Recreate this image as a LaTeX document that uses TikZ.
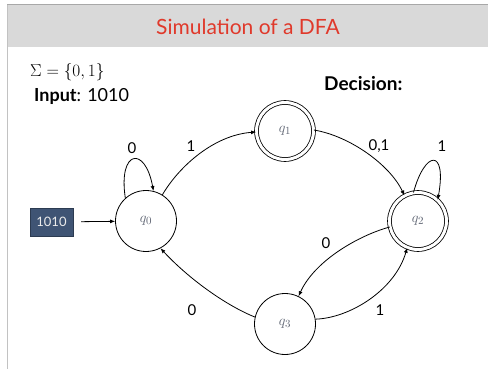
\documentclass[tikz,border=0pt]{standalone}
\usepackage{fontspec}
\setmainfont{Lato}
\usetikzlibrary{arrows.meta}
\definecolor{titlered}{HTML}{E0392B}
\definecolor{barfill}{HTML}{D9D9D9}
\definecolor{barline}{HTML}{A8A8A8}
\definecolor{boxfill}{HTML}{3F5474}
\definecolor{qtext}{HTML}{5E6472}
\tikzset{
  stateq/.style={circle, draw, line width=0.8pt, minimum size=61pt, inner sep=0pt, font=\fontsize{15}{15}\selectfont, text=qtext},
  acceptq/.style={stateq, double, double distance=3pt, minimum size=57pt},
  edge/.style={line width=0.8pt, -{Latex[length=5pt,width=4pt]}},
  elabel/.style={font=\fontsize{15}{15}\selectfont, inner sep=0pt},
}
\begin{document}
\begin{tikzpicture}[x=1pt,y=-1pt]
\useasboundingbox (0,0) rectangle (488,369);
% frame and title bar
\fill[barfill] (7,5) rectangle (488,47);
\draw[barline, line width=1pt] (7,5) -- (488,5);
\draw[barline!70, line width=1pt] (7.5,5) -- (7.5,369);
\node[text=titlered, font=\fontsize{21}{21}\selectfont] (title) at (248,27) {Simulation of a DFA};
% header texts
\node[anchor=west, font=\fontsize{19}{19}\selectfont, inner sep=0pt] (sigma) at (30,72) {$\Sigma=\{0,1\}$};
\node[anchor=west, font=\fontsize{18}{18}\selectfont, inner sep=0pt] (input) at (34,96) {\textbf{Input}: 1010};
\node[anchor=west, font=\fontsize{19}{19}\selectfont\bfseries, inner sep=0pt] (decision) at (324,84) {Decision:};
% states
\node[stateq] (q0) at (146,221) {$q_0$};
\node[acceptq] (q1) at (285,131) {$q_1$};
\node[acceptq] (q2) at (418,221) {$q_2$};
\node[stateq] (q3) at (285,324) {$q_3$};
% input box
\node[fill=boxfill, draw=boxfill!70!black, minimum width=43pt, minimum height=28pt, inner sep=0pt, text=white!85!gray, font=\fontsize{13}{13}\selectfont] (tape) at (51.5,222) {1010};
\draw[edge] (tape) -- (q0) [shorten <=8pt];
% transitions
\draw[edge] (q0.58) .. controls (180,165) and (215,135) .. (q1.182);
\draw[edge] (q0.132) .. controls (118,150) and (145,145) .. (q0.76);
\draw[edge] (q1.2) .. controls (350,136) and (390,165) .. (q2.118);
\draw[edge] (q2.99) .. controls (425,150) and (447,148) .. (q2.47);
\draw[edge] (q2.192) .. controls (360,235) and (315,260) .. (q3.64);
\draw[edge] (q3.9) .. controls (350,318) and (395,290) .. (q2.248);
\draw[edge] (q3.167) .. controls (225,305) and (188,278) .. (q0.298);
% labels
\node[elabel] (l1) at (191,146) {1};
\node[elabel] (l2) at (132,148) {0};
\node[elabel] (l3) at (379,146) {0,1};
\node[elabel] (l4) at (442,146) {1};
\node[elabel] (l5) at (326,243) {0};
\node[elabel] (l6) at (380,310) {1};
\node[elabel] (l7) at (192,310) {0};
\end{tikzpicture}
\end{document}
